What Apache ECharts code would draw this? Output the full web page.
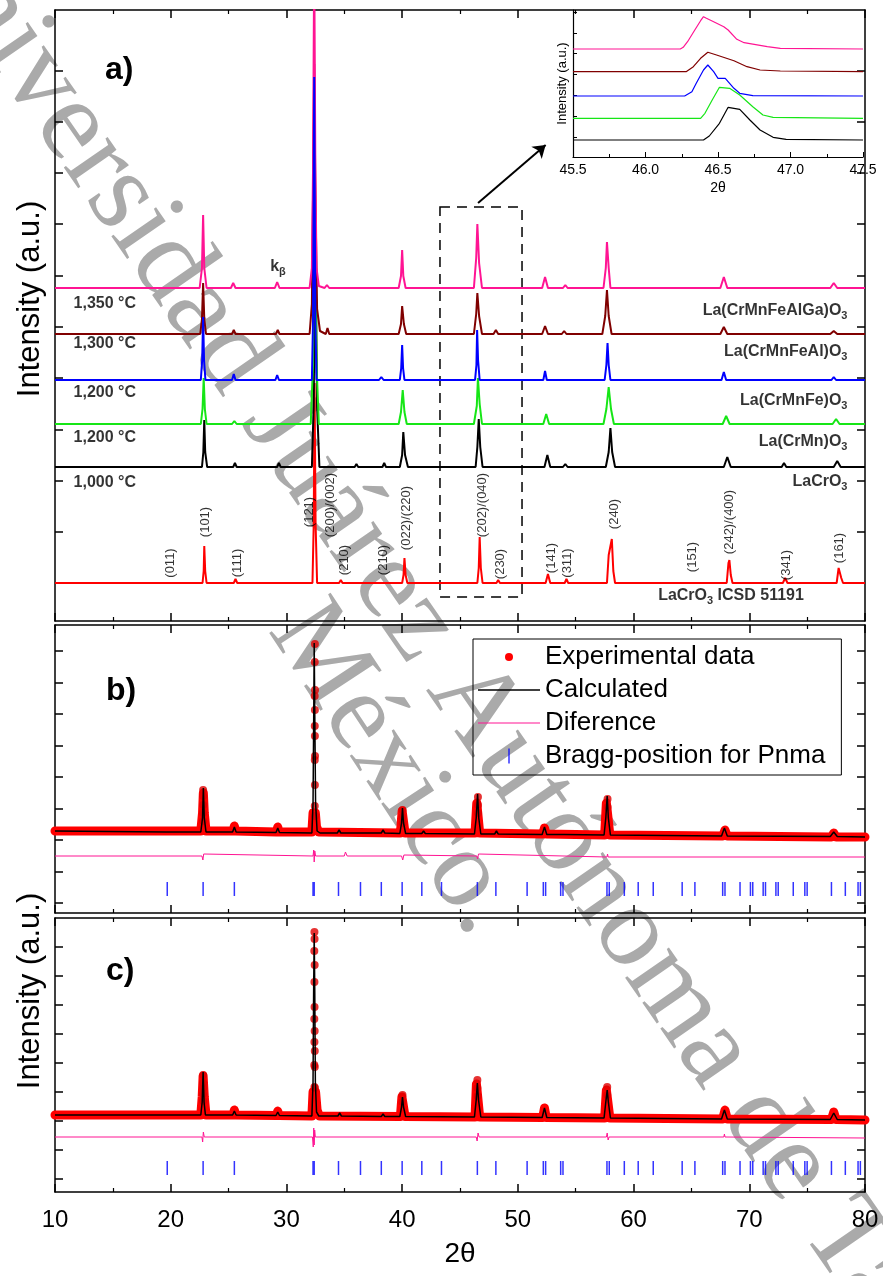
<!DOCTYPE html>
<html><head><meta charset="utf-8">
<script src="https://cdn.jsdelivr.net/npm/echarts@6/dist/echarts.min.js"></script>
<style>html,body{margin:0;padding:0;background:#fff}#c{width:883px;height:1276px}</style>
</head><body><div id="c"></div><script>
const FONT = '"Liberation Sans", Arial, sans-serif';

// ---------------- Panel a: XRD patterns, [2θ, intensity above its own baseline] ----------------
const patLaCrMnFeAlGa = [[10,0],[22.5,0],[22.7,20],[22.8,73],[22.9,20],[23.1,0],[25.2,0],[25.4,5],[25.6,0],[29.0,0],[29.2,6],[29.4,0],
 [32.0,0],[32.2,20],[32.3,120],[32.4,330],[32.5,120],[32.6,20],[32.8,2],[33.3,0],[33.5,3],[33.7,0],
 [39.7,0],[39.9,12],[40.0,38],[40.1,12],[40.3,0],[46.2,0],[46.4,30],[46.5,64],[46.65,25],[46.9,0],
 [52.1,0],[52.35,11],[52.6,0],[53.9,0],[54.1,3],[54.3,0],[57.4,0],[57.6,20],[57.7,46],[57.85,20],[58.0,0],
 [67.5,0],[67.8,11],[68.1,0],[77.0,0],[77.3,5],[77.6,0],[80,0]];
const patLaCrMnFeAl = [[10,0],[22.55,0],[22.7,15],[22.8,51],[22.9,15],[23.05,0],[25.3,0],[25.45,4],[25.6,0],[29.1,0],[29.25,4],[29.4,0],
 [32.0,0],[32.2,30],[32.3,140],[32.4,270],[32.5,140],[32.65,25],[32.9,3],[33.4,0],[33.55,6],[33.7,0],
 [39.7,0],[39.9,10],[40.0,28],[40.15,10],[40.35,0],[46.2,0],[46.4,20],[46.5,41],[46.65,18],[46.9,0],[47.9,0],[48.1,4],[48.3,0],
 [52.1,0],[52.35,8],[52.6,0],[53.8,0],[54.0,3],[54.2,0],[57.3,0],[57.55,18],[57.7,44],[57.85,18],[58.1,0],
 [67.5,0],[67.8,7],[68.1,0],[77.0,0],[77.3,3],[77.6,0],[80,0]];
const patLaCrMnFe = [[10,0],[22.6,0],[22.72,20],[22.8,63],[22.88,20],[23.0,0],[25.3,0],[25.45,6],[25.6,0],[29.05,0],[29.2,5],[29.35,0],
 [32.2,0],[32.3,60],[32.4,303],[32.5,60],[32.6,0],[38.0,0],[38.2,3],[38.4,0],
 [39.8,0],[39.92,12],[40.0,35],[40.08,12],[40.2,0],[46.3,0],[46.42,15],[46.48,50],[46.56,20],[46.7,0],
 [52.2,0],[52.35,9],[52.5,0],[57.5,0],[57.65,15],[57.75,37],[57.85,15],[58.0,0],[67.6,0],[67.8,8],[68.0,0],
 [77.1,0],[77.3,3],[77.5,0],[80,0]];
const patLaCrMn = [[10,0],[22.6,0],[22.75,15],[22.85,46],[22.95,15],[23.1,0],[25.3,0],[25.5,3],[25.7,0],
 [32.1,0],[32.3,60],[32.45,270],[32.6,60],[32.8,0],[39.7,0],[39.9,12],[40.05,34],[40.2,12],[40.4,0],
 [46.2,0],[46.45,18],[46.55,46],[46.7,20],[46.9,0],[52.2,0],[52.45,10],[52.7,0],
 [57.4,0],[57.65,15],[57.85,37],[58.05,15],[58.3,0],[67.7,0],[68.0,8],[68.3,0],[77.2,0],[77.5,5],[77.8,0],[80,0]];
const patLaCrO3 = [[10,0],[22.7,0],[22.82,15],[22.9,47],[22.98,15],[23.15,0],[25.4,0],[25.55,4],[25.7,0],[29.2,0],[29.35,4],[29.5,0],
 [32.2,0],[32.35,60],[32.5,230],[32.65,60],[32.85,0],[35.9,0],[36.05,3],[36.2,0],[38.3,0],[38.45,4],[38.6,0],
 [39.8,0],[40.0,12],[40.1,35],[40.25,12],[40.5,0],[46.35,0],[46.5,20],[46.62,48],[46.75,20],[46.95,0],
 [52.3,0],[52.55,12],[52.8,0],[53.9,0],[54.1,3],[54.3,0],[57.6,0],[57.85,15],[58.0,39],[58.15,15],[58.4,0],
 [67.8,0],[68.1,10],[68.4,0],[72.8,0],[73.0,4],[73.2,0],[77.3,0],[77.6,6],[77.9,0],[80,0]];
const patICSD = [[10,0],[19.65,0],[19.8,2],[19.95,0],[22.75,0],[22.85,12],[22.9,37],[22.98,12],[23.1,0],[25.45,0],[25.6,4],[25.75,0],
 [32.25,0],[32.36,60],[32.43,200],[32.52,60],[32.65,0],[34.55,0],[34.7,3],[34.85,0],[38.2,0],[38.35,2],[38.5,0],
 [40.0,0],[40.12,8],[40.2,25],[40.3,8],[40.45,0],[41.8,0],[41.95,2],[42.1,0],[46.5,0],[46.62,15],[46.7,46],[46.8,15],[46.95,0],
 [48.15,0],[48.3,3],[48.45,0],[52.4,0],[52.6,9],[52.8,0],[54.05,0],[54.2,4],[54.35,0],
 [57.7,0],[57.85,28],[57.95,30],[58.12,44],[58.25,12],[58.4,0],[64.65,0],[64.8,2],[64.95,0],
 [68.05,0],[68.2,20],[68.28,23],[68.4,8],[68.55,0],[69.55,0],[69.7,2],[69.85,0],[72.9,0],[73.1,5],[73.3,0],
 [77.55,0],[77.72,15],[77.8,17],[77.95,5],[78.1,0],[80,0]];
const stackOffsets = [333, 287, 241, 197, 154, 38]; // AlGa, Al, Fe, Mn, LaCrO3, ICSD
const aTicks = [38, 89, 140, 191, 243, 294, 345, 397, 448, 499, 550];

const millerText = ['(011)','(101)','(111)','(121)','(200)/(002)','(210)','(210)','(022)/(220)','(202)/(040)','(230)','(141)','(311)','(240)','(151)','(242)/(400)','(341)','(161)'];
const millerX = [20.0,22.96,25.8,31.95,33.77,34.98,38.35,40.33,46.9,48.46,52.87,54.25,58.31,65.05,68.25,73.18,77.75];
const millerY = [58,99,58,109,116,61,61,103,116,57,63,58,107,64,99,56,73];
const tempText = ['1,350 °C','1,300 °C','1,200 °C','1,200 °C','1,000 °C'];
const tempY = [317, 277, 228, 183, 138];
const compText = ['La(CrMnFeAlGa)O_3','La(CrMnFeAl)O_3','La(CrMnFe)O_3','La(CrMn)O_3','LaCrO_3'];
const compY = [309, 268, 219, 178, 138];

// ---------------- Inset: 45.5–47.5° ----------------
const insetPink = [[45.5,108],[46.24,108],[46.26,109.7],[46.29,115.3],[46.34,127],[46.38,136.3],[46.40,140.3],[46.42,138.7],[46.47,135.3],[46.54,130.3],[46.57,127],[46.63,117.7],[46.68,114.3],[46.84,110.3],[46.93,108.7],[47.5,108]];
const insetBrown = [[45.5,85.3],[46.28,85.3],[46.33,90.3],[46.38,98.7],[46.43,104.7],[46.49,102],[46.61,96.3],[46.70,90.3],[46.79,87],[46.93,86],[47.5,85.3]];
const insetBlue = [[45.5,61],[46.27,61],[46.32,65.3],[46.35,73.7],[46.40,87],[46.43,92],[46.47,85.3],[46.50,78.7],[46.55,78.7],[46.61,68.7],[46.65,63.7],[46.74,61.3],[47.5,61]];
const insetGreen = [[45.5,38.7],[46.38,38.7],[46.41,43.7],[46.46,57],[46.51,69.7],[46.58,68.7],[46.65,62],[46.74,50.3],[46.81,42],[46.88,39.7],[47.5,38.7]];
const insetBlack = [[45.5,17],[46.40,17],[46.44,21],[46.51,33.7],[46.57,49.7],[46.65,47.7],[46.72,37],[46.79,27],[46.88,19.7],[46.97,17.7],[47.5,17]];
const insetTicks = [20,41,62,83,104,124,145];

// ---------------- Panel b: Rietveld ----------------
const expB = [[10,82],[22.6,82],[22.75,100],[22.82,120],[22.9,100],[23.05,82],[25.4,82],[25.5,87],[25.6,82],[29.15,81],[29.25,86],[29.35,81],
 [32.2,81],[32.3,100],[32.4,100],[32.5,100],[32.6,86],[32.8,81],[39.85,80],[40.0,102],[40.1,102],[40.25,80],[46.3,80],[46.45,110],[46.55,112],[46.7,80],
 [52.15,79],[52.3,85],[52.45,79],[57.5,78],[57.65,110],[57.78,112],[57.95,78],[67.7,77],[67.9,83],[68.1,77],[77.1,76],[77.3,80],[77.5,76],[80,76]];
const expBDots = [[22.8,123],[22.8,117],[22.81,108],[22.79,100],[22.8,92],
 [32.46,269],[32.45,251],[32.47,223],[32.44,217],[32.46,203],[32.45,187],[32.46,177],[32.47,157],[32.45,153],[32.46,128],[32.45,107],[32.47,97],
 [40.03,103],[40.03,96],[40.05,90],[46.55,116],[46.55,108],[46.56,100],[57.75,114],[57.75,106]];
const calcB = [[10,82],[19.6,81],[19.75,82.5],[19.9,81],[22.6,81],[22.75,95],[22.82,125],[22.9,95],[23.05,81],[25.35,81],[25.5,86],[25.65,81],
 [29.1,80.5],[29.25,85],[29.4,80.5],[32.2,80],[32.3,110],[32.36,200],[32.4,270],[32.45,200],[32.52,110],[32.65,82],[32.9,80],
 [34.4,80],[34.55,83],[34.7,80],[38.2,80],[38.35,83],[38.5,80],[39.8,79.5],[39.95,90],[40.03,105],[40.12,90],[40.3,79.5],
 [41.7,79.5],[41.85,82],[42.0,79.5],[46.25,79],[46.4,95],[46.52,119],[46.62,95],[46.8,79],[48.0,79],[48.15,82],[48.3,79],
 [52.1,78.5],[52.3,86],[52.5,78.5],[53.7,78.5],[53.85,80.5],[54.0,78.5],[57.45,78],[57.6,95],[57.72,117],[57.82,95],[58.0,78],
 [67.6,77],[67.85,85],[68.1,77],[77.0,76.5],[77.3,81],[77.6,76.5],[80,76]];
const diffB = [[10,57],[22.7,57],[22.78,53],[22.85,59],[22.95,57],[32.3,57],[32.36,63],[32.4,51],[32.45,62],[32.52,57],
 [35.0,57],[35.1,61],[35.25,57],[39.95,57],[40.05,53],[40.15,58],[40.25,57],[46.45,57],[46.52,54],[46.6,59],[46.7,57],[57.7,56],[57.75,59],[57.8,56],[80,56]];
const bTicks = [10, 41.5, 73, 104.5, 136, 167.5, 199, 230.5, 262];

// ---------------- Panel c: Rietveld ----------------
const expC = [[10,77],[22.6,77],[22.72,95],[22.8,116],[22.9,95],[23.05,77],[25.4,77],[25.5,82],[25.6,77],[29.15,76.5],[29.25,81],[29.35,76.5],
 [32.2,76],[32.3,100],[32.4,102],[32.52,100],[32.65,82],[32.85,76],[39.85,75.5],[39.98,95],[40.08,95],[40.25,75.5],[46.3,75],[46.42,108],[46.55,108],[46.7,75],
 [52.15,74.5],[52.3,84],[52.45,74.5],[57.5,74],[57.65,102],[57.78,103],[57.95,74],[67.7,73],[67.9,82],[68.1,73],[77.1,72.5],[77.3,80],[77.5,72.5],[80,72]];
const expCDots = [[22.8,117],[22.8,109],[22.81,104],[22.79,98],[22.8,91],
 [32.42,260],[32.43,253],[32.41,241],[32.44,227],[32.42,210],[32.43,185],[32.41,173],[32.44,161],[32.42,150],[32.45,141],[32.41,127],[32.45,125],[32.42,105],[32.46,104],
 [40.03,97],[40.03,90],[46.5,112],[46.5,104],[46.52,96],[57.72,105],[57.72,97]];
const calcC = [[10,77],[19.6,77],[19.75,78.5],[19.9,77],[22.6,77],[22.72,90],[22.8,120],[22.88,90],[23.0,77],[25.35,77],[25.5,81],[25.65,77],
 [29.1,76.5],[29.25,80],[29.4,76.5],[32.2,76],[32.3,110],[32.35,200],[32.4,259],[32.45,200],[32.5,110],[32.6,80],[32.8,76],
 [34.45,76],[34.6,79],[34.75,76],[38.2,75.5],[38.35,78],[38.5,75.5],[39.8,75.5],[39.95,85],[40.03,95],[40.12,85],[40.3,75.5],
 [46.25,75],[46.4,92],[46.5,109],[46.6,92],[46.8,75],[52.1,74.5],[52.3,84],[52.5,74.5],[57.45,74],[57.6,90],[57.72,102],[57.82,90],[58.0,74],
 [67.6,73],[67.85,82],[68.1,73],[77.0,72.5],[77.3,79],[77.6,72.5],[80,72]];
const diffC = [[10,55],[22.7,55],[22.76,50],[22.82,60],[22.9,55],[32.25,55],[32.32,45],[32.36,64],[32.4,47],[32.44,62],[32.5,55],
 [46.4,55],[46.48,51],[46.56,59],[46.65,55],[57.65,55],[57.72,59],[57.8,52],[57.88,55],[67.8,55],[67.85,58],[67.9,55],[80,54]];
const cTicks = [13, 42, 71, 100, 129, 158, 187, 216, 245];

// Bragg reflections for Pnma (2θ)
const braggPos = [19.7,22.8,25.5,32.3,32.4,34.5,36.4,38.2,40.0,41.7,43.4,46.5,48.1,50.8,52.2,52.4,53.7,53.9,57.7,57.9,59.2,60.4,61.7,
 64.2,65.3,67.7,67.9,69.2,70.1,70.3,71.2,71.4,72.3,72.5,73.8,74.8,75.0,77.1,78.3,79.4,79.6];
const braggLevel = 24;

// ---------------- helpers ----------------
function richText(s){ const parts = s.split(/_(.)/); let out=''; parts.forEach((p,i)=>{ if(p) out += (i%2 ? '{s|' : '{n|') + p + '}'; }); return out; }
const RICH = { n:{fontSize:16,fontWeight:'bold',fontFamily:FONT,color:'#000',verticalAlign:'top'}, s:{fontSize:11,fontWeight:'bold',fontFamily:FONT,color:'#000',lineHeight:19,verticalAlign:'bottom'} };
const AX = {color:'#000', width:1.5};
function xAx(grid, pos, label, extra){ return Object.assign({type:'value', gridIndex:grid, position:pos, min:10, max:80, interval:10,
  axisLine:{show:true, onZero:false, lineStyle:AX}, axisTick:{show:true, inside:true, length:8, lineStyle:AX},
  minorTick:{show:true, splitNumber:2, length:4, lineStyle:{color:'#000', width:1.2}},
  axisLabel:{show:label, fontSize:24, fontFamily:FONT, color:'#000', margin:16}, splitLine:{show:false}, minorSplitLine:{show:false}}, extra||{}); }
function yAx(grid, pos, max, ticks, extra){ return Object.assign({type:'value', gridIndex:grid, position:pos, min:0, max:max,
  axisLine:{show:true, onZero:false, lineStyle:AX}, axisTick:{show:true, inside:true, length:8, lineStyle:AX, customValues:ticks},
  axisLabel:{show:false}, splitLine:{show:false}}, extra||{}); }
function line(xi, yi, data, color, width, extra){ return Object.assign({type:'line', xAxisIndex:xi, yAxisIndex:yi, data:data, showSymbol:false, symbol:'none',
  lineStyle:{color:color, width:width}, itemStyle:{color:color}, animation:false, silent:true, z:2}, extra||{}); }
const shift = (arr, off) => arr.map(p => [p[0], p[1] + off]);

const stackColors = ['#ff1493','#800000','#0000ff','#16e616','#000000','#ff0000'];
const stackData = [patLaCrMnFeAlGa, patLaCrMnFeAl, patLaCrMnFe, patLaCrMn, patLaCrO3, patICSD];
const drawOrder = [5,4,3,1,0,2];

const series = [];
drawOrder.forEach(i => {
  const s = line(0,0, shift(stackData[i], stackOffsets[i]), stackColors[i], 2);
  if (i === 5) {
    s.markArea = {silent:true, itemStyle:{color:'rgba(0,0,0,0)', borderColor:'#000', borderWidth:1.5, borderType:[10,7]},
      data:[[{coord:[43.27,414]},{coord:[50.36,24]}]]};
    s.markLine = {silent:true, symbol:['none','arrow'], symbolSize:12, label:{show:false}, lineStyle:{color:'#000', width:2, type:'solid'},
      data:[[{coord:[46.56,418]},{coord:[52.4,476]}]]};
  }
  series.push(s);
});
const lblBase = {type:'scatter', xAxisIndex:0, yAxisIndex:0, symbolSize:1, itemStyle:{color:'rgba(0,0,0,0)'}, silent:true, animation:false, z:10};
series.push(Object.assign({}, lblBase, {data: millerText.map((t,i)=>({name:t, value:[millerX[i], millerY[i]]})),
  label:{show:true, position:'inside', rotate:90, formatter:p=>p.name, fontSize:13, fontFamily:FONT, color:'#000'}}));
series.push(Object.assign({}, lblBase, {data: tempText.map((t,i)=>({name:t, value:[11.56, tempY[i]]})),
  label:{show:true, position:'right', distance:0, formatter:p=>p.name, fontSize:16, fontWeight:'bold', fontFamily:FONT, color:'#000'}}));
series.push(Object.assign({}, lblBase, {data: compText.map((t,i)=>({name:t, value:[78.53, compY[i]]})),
  label:{show:true, position:'left', distance:0, formatter:p=>richText(p.name), rich:RICH}}));
series.push(Object.assign({}, lblBase, {data: [{name:'LaCrO_3 ICSD 51191', value:[68.42, 24]}, {name:'k_β', value:[29.27, 353]}],
  label:{show:true, position:'inside', formatter:p=>richText(p.name), rich:RICH}}));

// inset
[[insetBlack,'#000000'],[insetGreen,'#16e616'],[insetBlue,'#0000ff'],[insetBrown,'#800000'],[insetPink,'#ff1493']].forEach(([d,c]) => series.push(line(6,6,d,c,1.2)));

// panels b and c
function rietveld(xi, yi, exp, dots, calc, diff){
  series.push(line(xi, yi, exp, '#ff0000', 9, {name:'Experimental data', lineStyle:{color:'#ff0000', width:9, cap:'round', join:'round'}}));
  series.push({type:'scatter', name:'Experimental data', xAxisIndex:xi, yAxisIndex:yi, data:dots, symbolSize:8, itemStyle:{color:'#e00000'}, silent:true, animation:false, z:3});
  series.push(line(xi, yi, calc, '#000000', 1.5, {name:'Calculated', z:4}));
  series.push(line(xi, yi, diff, '#ff1493', 1, {name:'Diference'}));
  series.push({type:'scatter', name:'Bragg-position for Pnma', xAxisIndex:xi, yAxisIndex:yi, data:braggPos.map(x=>[x, braggLevel]),
    symbol:'rect', symbolSize:[1.5,14], itemStyle:{color:'#0000ff'}, silent:true, animation:false, z:3});
}
rietveld(2, 2, expB, expBDots, calcB, diffB);
rietveld(4, 4, expC, expCDots, calcC, diffC);

const option = {
  backgroundColor:'#fff', animation:false,
  textStyle:{fontFamily:FONT},
  grid:[
    {left:55, width:810, top:10, height:611, outerBoundsMode:'none', containLabel:false},
    {left:55, width:810, top:625, height:288, outerBoundsMode:'none', containLabel:false},
    {left:55, width:810, top:918, height:274, outerBoundsMode:'none', containLabel:false},
    {left:573, width:290, top:10, height:147, outerBoundsMode:'none', containLabel:false}
  ],
  xAxis:[
    xAx(0,'bottom',false), xAx(0,'top',false),
    xAx(1,'bottom',false), xAx(1,'top',false),
    xAx(2,'bottom',true,{name:'2θ', nameLocation:'middle', nameGap:48, nameTextStyle:{fontSize:28, fontFamily:FONT, color:'#000'}}),
    xAx(2,'top',false),
    {type:'value', gridIndex:3, position:'bottom', min:45.5, max:47.5, interval:0.5,
     axisLine:{show:true, onZero:false, lineStyle:{color:'#000', width:1.2}}, axisTick:{show:true, inside:true, length:5, lineStyle:{color:'#000', width:1}},
     minorTick:{show:true, splitNumber:2, length:3, lineStyle:{color:'#000', width:1}}, splitLine:{show:false},
     axisLabel:{show:true, fontSize:14, fontFamily:FONT, color:'#000', margin:6, formatter:v=>v.toFixed(1)},
     name:'2θ', nameLocation:'middle', nameGap:24, nameTextStyle:{fontSize:14, fontFamily:FONT, color:'#000'}}
  ],
  yAxis:[
    yAx(0,'left',611,aTicks), yAx(0,'right',611,aTicks),
    yAx(1,'left',288,bTicks), yAx(1,'right',288,bTicks),
    yAx(2,'left',274,cTicks), yAx(2,'right',274,cTicks),
    {type:'value', gridIndex:3, position:'left', min:0, max:147,
     axisLine:{show:true, onZero:false, lineStyle:{color:'#000', width:1.2}}, axisTick:{show:true, inside:true, length:4, lineStyle:{color:'#000', width:1}, customValues:insetTicks},
     axisLabel:{show:false}, splitLine:{show:false},
     name:'Intensity (a.u.)', nameLocation:'middle', nameGap:4, nameTextStyle:{fontSize:13, fontFamily:FONT, color:'#000'}}
  ],
  legend:{
    left:473, top:639, orient:'vertical', itemWidth:62, itemHeight:15, itemGap:7, padding:[5,16,6,5],
    borderColor:'#000', borderWidth:1, selectedMode:false, itemStyle:{borderWidth:0},
    textStyle:{fontSize:26, fontFamily:FONT, color:'#000'},
    data:[
      {name:'Experimental data', icon:'path://M0,0M62,15M27,7.5A4,4,0,1,1,35,7.5A4,4,0,1,1,27,7.5Z'},
      {name:'Calculated', icon:'path://M0,7L62,7L62,8.3L0,8.3Z'},
      {name:'Diference', icon:'path://M0,7L62,7L62,8.1L0,8.1Z'},
      {name:'Bragg-position for Pnma', icon:'path://M30,0L31.5,0L31.5,15L30,15Z'}
    ]
  },
  graphic:[
    {type:'text', z:-10, x:-74, y:-85, rotation:-0.965, silent:true,
     style:{text:'Universidad Juárez Autónoma de Tabasco', fontSize:116, fontFamily:'"Liberation Serif", serif', fill:'#aaaaaa', align:'left', verticalAlign:'middle'}},
    {type:'text', z:-10, x:292, y:614, rotation:-0.99, silent:true,
     style:{text:'México.', fontSize:112, fontFamily:'"Liberation Serif", serif', fill:'#aaaaaa', align:'left', verticalAlign:'middle'}},
    {type:'text', x:105, y:70, silent:true, style:{text:'a)', fontSize:32, fontWeight:'bold', fontFamily:FONT, fill:'#000', verticalAlign:'middle'}},
    {type:'text', x:106, y:691, silent:true, style:{text:'b)', fontSize:32, fontWeight:'bold', fontFamily:FONT, fill:'#000', verticalAlign:'middle'}},
    {type:'text', x:106, y:971, silent:true, style:{text:'c)', fontSize:32, fontWeight:'bold', fontFamily:FONT, fill:'#000', verticalAlign:'middle'}},
    {type:'text', x:30, y:299, rotation:Math.PI/2, silent:true, style:{text:'Intensity (a.u.)', fontSize:31, fontFamily:FONT, fill:'#000', align:'center', verticalAlign:'middle'}},
    {type:'text', x:30, y:991, rotation:Math.PI/2, silent:true, style:{text:'Intensity (a.u.)', fontSize:31, fontFamily:FONT, fill:'#000', align:'center', verticalAlign:'middle'}}
  ],
  series: series
};
const chart = echarts.init(document.getElementById('c'), null, {renderer:'canvas'});
chart.setOption(option);
</script></body></html>
